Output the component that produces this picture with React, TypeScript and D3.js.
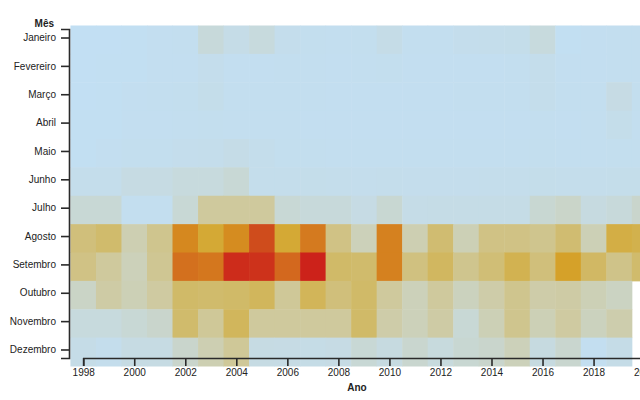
import React, { useEffect, useRef } from "react";
import * as d3 from "d3";

const years = d3.range(1998, 2021);
const months = ["Janeiro", "Fevereiro", "Março", "Abril", "Maio", "Junho", "Julho", "Agosto", "Setembro", "Outubro", "Novembro", "Dezembro"];
const xTicks = [1998, 2000, 2002, 2004, 2006, 2008, 2010, 2012, 2014, 2016, 2018, 2020];

const janeiro = [3, 3, 4, 5, 6, 18, 12, 17, 8, 7, 6, 7, 12, 6, 6, 8, 9, 10, 17, 4, 5, 6, 6];
const fevereiro = [3, 4, 4, 5, 5, 8, 5, 5, 6, 6, 5, 6, 7, 5, 5, 5, 5, 6, 9, 5, 5, 6, 6];
const marco = [3, 4, 5, 6, 7, 10, 6, 6, 6, 6, 5, 5, 5, 5, 5, 6, 6, 6, 9, 6, 6, 14, 7];
const abril = [4, 4, 5, 5, 6, 7, 6, 6, 6, 5, 5, 5, 5, 5, 5, 5, 5, 5, 6, 5, 6, 10, 6];
const maio = [4, 5, 7, 7, 8, 9, 12, 9, 7, 7, 6, 6, 6, 6, 6, 6, 6, 6, 7, 6, 6, 7, 7];
const junho = [9, 9, 15, 15, 17, 17, 20, 9, 9, 10, 9, 8, 9, 8, 8, 8, 9, 9, 10, 9, 9, 10, 10];
const julho = [20, 20, 6, 6, 20, 35, 35, 35, 20, 18, 18, 14, 21, 12, 13, 13, 13, 13, 21, 24, 16, 18, 23];
const agosto = [42, 45, 30, 38, 68, 58, 67, 85, 58, 72, 40, 28, 70, 30, 44, 29, 40, 40, 38, 44, 29, 55, 53];
const setembro = [40, 35, 28, 37, 75, 73, 95, 93, 77, 98, 46, 45, 70, 41, 48, 38, 43, 52, 42, 61, 47, 39, 45];
const outubro = [25, 33, 29, 34, 46, 45, 46, 49, 36, 50, 42, 46, 35, 28, 35, 27, 32, 38, 32, 33, 29, 26, null];
const novembro = [17, 17, 20, 23, 45, 36, 49, 35, 35, 35, 35, 46, 32, 28, 33, 20, 29, 38, 29, 34, 27, 31, null];
const dezembro = [12, 8, 15, 15, 23, 30, 36, 15, 14, 13, 14, 20, 16, 22, 17, 21, 23, 28, 16, 22, 5, 12, null];

const monthValues = [janeiro, fevereiro, marco, abril, maio, junho, julho, agosto, setembro, outubro, novembro, dezembro];

const colorStops = [0, 15, 25, 35, 45, 55, 60, 68, 76, 86, 100];
const colorRange = ["#c1e0f7", "#c6dbe3", "#cad4c6", "#cfc99d", "#d0bb6c", "#d3ae45", "#d5a52a", "#d5881f", "#d36c1e", "#ce481c", "#cc1c1a"];

export default function App() {
  const xAxisRef = useRef<SVGGElement>(null);
  const yAxisRef = useRef<SVGGElement>(null);

  const x = d3.scaleLinear().domain([1998, 2020]).range([83.2, 644.6]);
  const step = x(1999) - x(1998);
  const yBand = d3.scaleBand<string>().domain(months).range([25.5, 366]);
  const yPoint = d3.scalePoint<string>().domain(months).range([29, 358]).padding(0.3);
  const color = d3.scaleLinear<string>().domain(colorStops).range(colorRange).clamp(true);

  const cells: { year: number; month: string; v: number }[] = [];
  months.forEach((m, i) => {
    years.forEach((yr, j) => {
      const v = monthValues[i][j];
      if (v !== null && v !== undefined) cells.push({ year: yr, month: m, v });
    });
  });

  useEffect(() => {
    const fontFam = "'Liberation Sans', Arial, sans-serif";
    if (xAxisRef.current) {
      const g = d3.select(xAxisRef.current);
      g.call(
        d3.axisBottom(x).tickValues(xTicks).tickFormat(d3.format("d")).tickSize(8).tickPadding(3) as any
      );
      g.selectAll("path, line").attr("stroke", "#2a2a2a").attr("stroke-width", 1.6);
      g.selectAll("text").attr("fill", "#222").style("font-family", fontFam).style("font-size", "10px");
    }
    if (yAxisRef.current) {
      const g = d3.select(yAxisRef.current);
      g.call(d3.axisLeft(yPoint).tickSize(8).tickPadding(5) as any);
      g.selectAll("path, line").attr("stroke", "#2a2a2a").attr("stroke-width", 1.6);
      g.selectAll("text").attr("fill", "#222").style("font-family", fontFam).style("font-size", "10px");
    }
  }, []);

  return (
    <svg
      width={640}
      height={400}
      style={{ position: "absolute", left: 0, top: 0, background: "#fff" }}
      fontFamily="'Liberation Sans', Arial, sans-serif"
    >
      <g>
        {cells.map((c) => (
          <rect
            key={c.year + c.month}
            x={x(c.year) - step / 2}
            y={yBand(c.month) as number}
            width={step + 0.5}
            height={yBand.bandwidth() + 0.5}
            fill={color(c.v)}
          />
        ))}
      </g>
      <g ref={yAxisRef} transform="translate(69,0)" />
      <g ref={xAxisRef} transform="translate(0,358)" />
      <text x={54} y={26.5} textAnchor="end" fontSize={10} fontWeight="bold" fill="#222">
        Mês
      </text>
      <text x={357} y={390.5} textAnchor="middle" fontSize={10} fontWeight="bold" fill="#222">
        Ano
      </text>
    </svg>
  );
}
